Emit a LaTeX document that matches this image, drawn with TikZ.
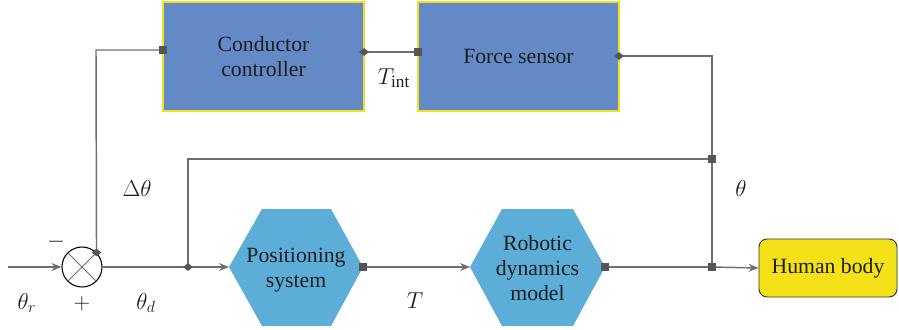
\documentclass[tikz,border=0pt]{standalone}
\usepackage{fontspec}
\setmainfont{Liberation Serif}
\newfontfamily\boxfont{Liberation Serif}
\usetikzlibrary{arrows.meta,shapes.geometric}
\definecolor{boxblue}{RGB}{99,138,198}
\definecolor{hexblue}{RGB}{92,173,216}
\definecolor{hbyellow}{RGB}{245,225,24}
\definecolor{edgeyellow}{RGB}{238,226,30}
\definecolor{wire}{RGB}{110,110,110}
\definecolor{mark}{RGB}{85,85,85}
\definecolor{txt}{RGB}{30,30,30}
\begin{document}
\begin{tikzpicture}[x=0.75pt,y=-0.75pt,
  every node/.style={text=txt,font=\boxfont\fontsize{16.3}{18.5}\selectfont},
  wireline/.style={draw=wire,line width=1.1pt},
  arr/.style={wireline,-{Stealth[length=7.5pt,width=6pt,inset=2.5pt]}},
  bluebox/.style={draw=edgeyellow,line width=0.8pt,fill=boxblue,minimum width=150.75pt,minimum height=81.75pt,align=center,inner sep=0pt},
  hexfill/.style={fill=hexblue},
  sqm/.style={fill=mark,minimum size=5.5pt,inner sep=0pt,draw=none},
  dmm/.style={fill=mark,shape=diamond,minimum width=7.5pt,minimum height=6pt,inner sep=0pt,draw=none},
  lbl/.style={inner sep=0pt,font=\fontsize{18.5}{20}\selectfont}
]
\useasboundingbox (0,0) rectangle (899,329);

% blue boxes
\node[bluebox] (cc) at (263.5,56.5) {Conductor\\controller};
\node[bluebox] (fs) at (518.5,56.5) {Force sensor};

% hexagons
\fill[hexfill] (229,267) -- (262,209) -- (331,209) -- (363,267) -- (331,326) -- (262,326) -- cycle;
\node[align=center] (ps) at (296,270) {Positioning\\system};
\fill[hexfill] (470,267) -- (502,209) -- (573,209) -- (605,267) -- (573,326) -- (502,326) -- cycle;
\node[align=center] (rd) at (537.5,268) {Robotic\\dynamics\\model};

% human body
\node[draw=black!80,line width=0.7pt,fill=hbyellow,rounded corners=6pt,minimum width=103.5pt,minimum height=43.5pt] (hb) at (828,268) {Human body};

% summing junction
\node[draw=black,line width=0.8pt,circle,minimum size=30pt,inner sep=0pt] (sum) at (82,267) {};
\draw[wire,line width=0.7pt] (sum.north west) -- (sum.south east) (sum.north east) -- (sum.south west);

% coordinates
\coordinate (in) at (8,267);
\coordinate (ps-w) at (229,267);
\coordinate (ps-e) at (363,267);
\coordinate (rd-w) at (470,267);
\coordinate (rd-e) at (605,267);
\coordinate (tap) at (712,267);
\coordinate (fbtop) at (712,159);
\coordinate (fbleft) at (188,159);
\coordinate (dtap) at (188,267);
\coordinate (cc-w) at (163,50);
\coordinate (ccl) at (96,50);
\coordinate (cc-e) at (364,52);
\coordinate (fs-w) at (418,52);
\coordinate (fs-e) at (619,56);
\coordinate (fsr) at (712,56);

% connectors
\draw[arr] (in) -- (sum.west);
\draw[arr] (sum.east) -- (ps-w);
\draw[arr] (ps-e) -- (rd-w);
\draw[wireline] (rd-e) -- (tap);
\draw[arr] (tap) -- (hb.west);
\draw[wireline] (fs-e) -- (fsr) -- (tap);
\draw[wireline] (fbtop) -- (fbleft) -- (dtap);
\draw[wireline] (cc-e) -- (fs-w);
\draw[wireline] (sum.north east) -- (ccl) -- (cc-w);

% markers
\node[sqm] (m1) at (cc-w) {};
\node[sqm] (m2) at (fs-w) {};
\node[sqm] (m3) at (ps-e) {};
\node[sqm] (m4) at (rd-e) {};
\node[sqm] (m5) at (fbtop) {};
\node[sqm] (m6) at (tap) {};
\node[dmm] (d1) at (cc-e) {};
\node[dmm] (d2) at (fs-e) {};
\node[dmm] (d3) at (sum.north east) {};
\node[dmm] (d4) at (dtap) {};

% labels
\node[lbl] (lthr) at (27,303) {$\theta_r$};
\node[lbl] (lplus) at (82,304) {$+$};
\node[lbl] (lminus) at (56,242) {$-$};
\node[lbl] (lthd) at (146,303) {$\theta_d$};
\node[lbl] (ldth) at (137,188) {$\Delta\theta$};
\node[lbl] (ltint) at (394,78) {$T_{\mathrm{int}}$};
\node[lbl] (lT) at (415,301) {$T$};
\node[lbl] (lth) at (741,188) {$\theta$};
\end{tikzpicture}
\end{document}
